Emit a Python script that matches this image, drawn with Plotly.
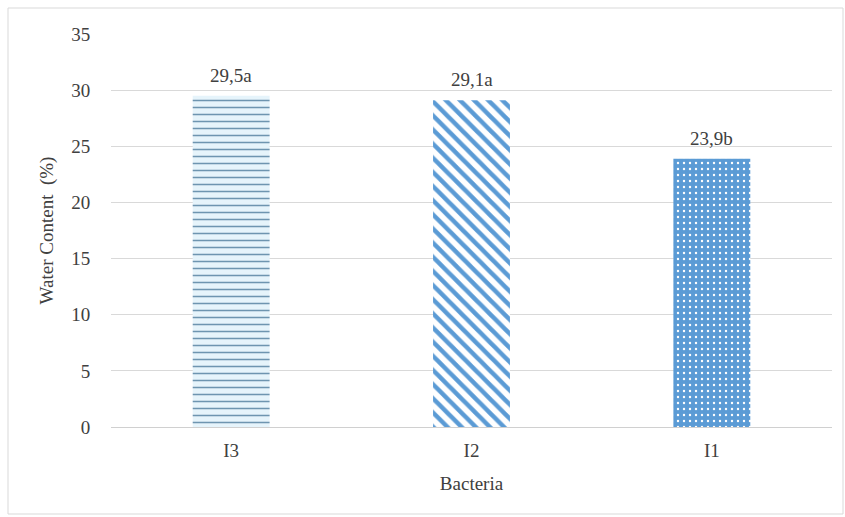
import plotly.graph_objects as go

# Water content by bacterial inoculant
categories = ["I3", "I2", "I1"]
water_content = [29.5, 29.1, 23.9]
group_letters = ["a", "a", "b"]
y_ticks = [0, 5, 10, 15, 20, 25, 30, 35]

labels = [f"{v:.1f}".replace(".", ",") + g for v, g in zip(water_content, group_letters)]

# Per-bar fill patterns
pattern_shapes = ["-", "\\", "."]
pattern_fg = ["#6e95b0", "#5b9bd5", "#ffffff"]
pattern_bg = ["#e6f4fb", "#ffffff", "#5b9bd5"]
pattern_size = [7, 10, 6]
pattern_solidity = [0.22, 0.45, 0.12]

serif = "Times New Roman, Liberation Serif, DejaVu Serif, serif"
text_color = "#404040"
fs = 19

fig = go.Figure()
for i, cat in enumerate(categories):
    fig.add_trace(
        go.Bar(
            x=[cat],
            y=[water_content[i]],
            width=0.32,
            marker=dict(
                color=pattern_bg[i],
                line=dict(width=0),
                pattern=dict(
                    shape=pattern_shapes[i],
                    fgcolor=pattern_fg[i],
                    fgopacity=1,
                    size=pattern_size[i],
                    solidity=pattern_solidity[i],
                    fillmode="overlay",
                ),
            ),
        )
    )

# Value and significance-letter labels above each bar
for cat, val, lab in zip(categories, water_content, labels):
    fig.add_annotation(
        x=cat, y=val, text=lab, showarrow=False, yanchor="bottom", yshift=8,
        font=dict(family=serif, size=fs, color=text_color),
    )

fig.update_layout(
    width=845,
    height=517,
    margin=dict(l=111, r=13, t=34, b=90),
    paper_bgcolor="white",
    plot_bgcolor="white",
    showlegend=False,
    barmode="overlay",
    font=dict(family=serif, size=fs, color=text_color),
    xaxis=dict(
        title=dict(text="Bacteria", font=dict(family=serif, size=fs, color=text_color), standoff=16),
        categoryorder="array",
        categoryarray=categories,
        showline=True,
        linecolor="#d0d0d0",
        linewidth=1,
        ticks="outside",
        tickcolor="rgba(0,0,0,0)",
        ticklen=6,
        tickfont=dict(family=serif, size=fs, color=text_color),
        showgrid=False,
    ),
    yaxis=dict(
        title=dict(text="Water Content  (%)", font=dict(family=serif, size=fs, color=text_color), standoff=12),
        range=[0, 35],
        tickvals=y_ticks,
        ticks="outside",
        tickcolor="rgba(0,0,0,0)",
        ticklen=16,
        tickfont=dict(family=serif, size=fs, color=text_color),
        showgrid=True,
        gridcolor="#d9d9d9",
        gridwidth=1,
        zeroline=False,
        showline=False,
    ),
    shapes=[
        dict(
            type="rect",
            xref="paper",
            yref="paper",
            x0=(8 - 111) / 721,
            x1=(843 - 111) / 721,
            y0=(427 - 514) / 393,
            y1=(427 - 8) / 393,
            line=dict(color="#d9d9d9", width=1),
            fillcolor="rgba(0,0,0,0)",
            layer="below",
        )
    ],
)

fig.write_html("out.html")
